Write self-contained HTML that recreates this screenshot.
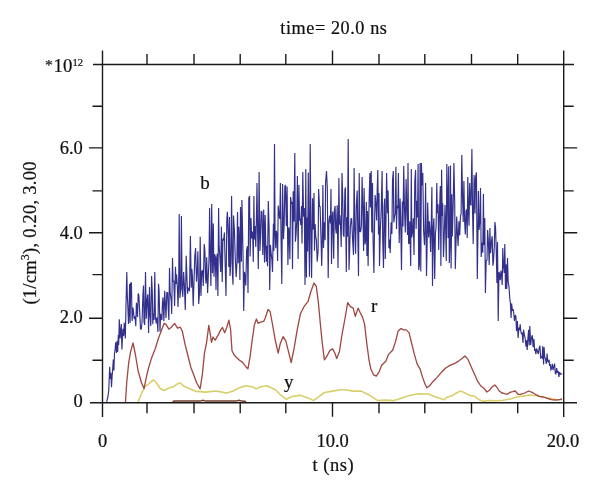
<!DOCTYPE html><html><head><meta charset="utf-8"><style>html,body{margin:0;padding:0;background:#fff;}svg{display:block;}text{font-family:"Liberation Serif",serif;fill:#111;stroke:#111;stroke-width:0.22px;}</style></head><body>
<svg width="600" height="496" viewBox="0 0 600 496">
<rect width="600" height="496" fill="#fff"/>
<polyline points="138.2,402.0 141.1,394.3 144.9,386.6 148.7,383.8 153.3,379.8 156.4,382.8 160.2,388.5 164.1,390.5 167.9,388.5 173.6,386.6 177.5,383.8 180.3,382.8 183.2,385.7 188.9,388.5 196.6,391.4 205.6,392.1 216.2,391.0 226.8,393.1 233.1,391.0 239.5,387.8 245.8,385.7 252.2,386.8 256.4,388.9 260.6,386.8 267.0,385.7 275.4,389.8 280.9,395.2 286.3,399.3 291.8,396.6 299.9,395.2 308.1,397.9 313.5,400.6 319.0,396.6 324.4,392.5 332.6,391.1 340.8,389.8 345.0,389.8 353.2,391.1 361.3,391.1 369.5,395.2 377.7,400.6 385.8,400.1 394.0,400.6 402.2,397.9 410.3,395.2 418.5,393.8 428.6,394.0 433.7,396.3 438.9,398.0 444.0,399.7 447.4,397.1 452.6,395.4 456.8,392.8 460.3,391.1 464.6,392.8 469.7,395.4 474.8,396.3 479.1,399.7 483.4,401.4 488.6,400.5 496.0,400.8 503.3,400.3 510.0,399.0 516.7,397.0 523.3,396.1 530.0,395.0 536.7,395.7 543.3,397.0 550.0,398.3 556.7,399.7 562.0,399.7" fill="none" stroke="#d9cf6a" stroke-width="1.6" stroke-linejoin="round"/>
<polyline points="172.5,401.6 175.0,401.1 200.0,401.1 203.0,400.3 206.0,401.1 236.0,401.1 239.0,400.3 242.0,401.1 246.0,401.6" fill="none" stroke="#6e3f2c" stroke-width="1.5"/>
<polyline points="125.4,402.8 126.7,382.8 128.6,363.6 130.5,352.1 133.0,343.0 135.3,354.0 138.2,371.3 141.5,382.8 144.0,388.6 146.8,375.1 148.7,367.5 151.6,357.9 155.4,348.3 158.3,338.7 161.2,331.1 164.1,323.4 166.0,324.4 168.9,329.2 171.3,327.2 174.6,323.4 177.5,328.2 180.3,327.2 182.3,331.1 185.1,344.5 188.0,356.0 190.9,367.5 193.8,375.1 196.6,382.8 200.1,388.9 202.4,374.1 204.5,352.9 206.6,342.3 208.8,325.4 210.2,333.9 211.5,342.3 213.0,337.0 215.1,340.2 218.3,334.9 220.8,329.6 222.5,327.5 224.6,332.8 226.8,327.5 228.9,320.1 230.6,329.6 232.0,350.8 234.2,355.0 236.3,357.2 239.5,360.3 242.6,362.4 245.8,366.7 247.9,368.8 250.0,357.2 252.2,340.2 254.3,325.4 256.4,319.0 258.1,323.3 260.6,322.2 263.8,321.2 265.3,318.0 268.0,309.5 270.1,311.5 272.5,324.4 275.4,340.8 278.2,353.0 280.3,343.5 283.1,336.7 285.8,340.8 288.5,351.7 291.2,362.5 294.0,348.9 297.2,329.9 300.5,313.5 304.0,306.7 308.1,301.3 310.8,291.8 314.0,283.0 316.3,286.3 318.4,302.7 320.4,324.4 322.3,343.5 324.4,359.8 327.2,355.7 329.9,350.3 332.6,348.9 334.8,353.0 336.7,358.5 339.4,351.7 342.1,334.0 344.9,319.0 347.7,302.7 350.4,306.7 353.2,308.1 355.3,316.3 358.1,308.1 360.0,312.2 362.7,317.6 364.6,324.4 366.8,343.5 369.0,359.8 370.9,369.3 373.6,374.8 376.3,376.2 379.0,372.1 381.7,365.3 385.8,361.2 388.5,354.4 392.6,350.3 395.4,342.1 398.1,331.2 400.8,328.5 403.5,329.9 406.2,329.9 409.0,332.6 411.7,343.5 414.4,354.4 417.1,363.9 420.0,368.8 422.6,377.4 425.1,384.3 426.9,387.7 429.4,386.0 432.9,381.7 437.1,377.4 441.4,372.3 445.7,368.0 450.0,365.4 454.3,363.7 458.6,361.1 462.0,358.6 464.9,356.0 468.0,359.4 470.6,365.4 474.0,373.1 477.4,380.8 480.8,386.0 484.3,388.6 486.8,392.0 489.4,390.3 492.0,387.0 494.7,385.0 496.7,387.0 499.3,391.0 502.0,393.0 504.7,393.7 507.3,394.3 510.0,392.3 512.7,391.7 515.3,391.0 518.0,394.3 520.7,394.3 524.7,393.0 528.7,391.0 532.0,392.3 535.3,394.3 539.3,396.3 543.3,397.0 547.3,398.3 551.3,399.7 555.3,400.0 559.3,399.7 562.0,399.0" fill="none" stroke="#a0453f" stroke-width="1.3" stroke-linejoin="round"/>
<polyline points="106.6,401.8 107.9,397.0 108.7,391.0 109.1,381.3 109.7,366.8 110.3,378.9 110.9,372.8 111.5,387.3 112.1,376.4 112.7,369.2 113.3,359.5 113.9,370.4 114.5,353.5 115.1,349.8 115.7,342.2 116.5,353.0 117.1,341.0 117.7,352.0 118.3,334.9 118.7,345.0 119.3,319.2 120.1,338.5 121.3,324.0 121.9,349.4 122.9,328.9 123.6,336.0 124.3,322.8 125.3,338.5 126.0,305.3 126.8,272.0 127.3,295.2 127.8,305.7 128.5,324.0 129.0,312.3 129.6,284.0 130.1,323.0 130.7,283.3 131.4,282.4 132.1,321.0 133.0,307.5 133.6,312.8 134.2,319.0 135.0,316.4 135.8,326.3 136.4,302.8 136.9,306.5 137.5,317.0 138.2,293.4 138.9,295.7 139.7,312.2 140.5,329.0 141.2,329.1 142.0,323.0 142.9,295.6 143.5,285.5 144.0,321.8 144.7,325.0 145.5,272.0 146.3,318.7 147.1,299.6 147.8,294.2 148.6,333.0 149.5,287.0 150.0,313.2 150.8,326.0 151.6,276.1 152.3,292.6 152.8,324.2 153.4,313.2 154.0,320.0 154.8,272.0 155.4,317.5 156.3,323.4 157.0,317.2 157.9,332.0 158.5,283.7 159.1,290.9 160.0,331.6 160.6,313.7 161.2,318.0 161.9,320.0 162.4,303.4 163.0,297.2 163.9,321.2 164.7,290.8 165.5,306.8 166.0,318.0 166.8,292.6 167.7,292.8 168.2,308.3 168.9,320.0 169.5,268.0 170.1,291.7 170.6,295.9 171.2,300.5 171.7,314.0 172.5,258.0 173.1,281.8 173.8,280.7 174.6,306.0 175.5,266.8 176.0,283.9 176.6,274.5 177.4,287.6 178.0,307.0 178.7,282.2 179.2,214.0 179.9,298.0 180.8,289.4 181.4,216.0 182.1,287.9 182.8,296.9 183.6,271.9 184.4,285.6 185.3,310.0 186.2,255.7 187.0,279.0 187.6,293.7 188.1,287.5 188.7,290.0 189.5,290.6 190.4,236.0 191.3,287.7 191.8,268.9 192.4,276.2 193.2,306.0 194.0,281.3 194.8,256.0 195.6,248.0 196.5,281.7 197.3,269.5 197.9,251.2 198.7,304.0 199.6,291.4 200.2,236.7 201.0,296.0 201.6,271.4 202.5,270.6 203.3,286.0 204.2,244.0 204.9,251.3 205.5,277.4 206.0,283.5 206.7,257.2 207.6,293.0 208.4,273.4 209.0,259.7 209.6,208.0 210.3,258.0 210.9,286.0 211.7,204.0 212.5,273.2 213.3,223.4 214.0,276.7 214.7,254.2 215.4,257.1 216.0,289.9 216.6,258.2 217.3,253.7 217.9,296.0 218.6,208.0 219.1,245.9 219.9,257.2 220.7,271.9 221.4,226.8 222.2,282.0 222.9,238.5 223.6,240.6 224.4,232.5 225.1,261.3 226.0,296.0 226.8,220.0 227.4,211.7 228.3,236.2 228.8,267.0 229.4,217.0 230.0,276.0 230.8,262.9 231.6,196.0 232.4,273.5 233.0,284.7 233.5,215.6 234.4,230.2 235.3,259.3 236.2,277.0 236.9,263.4 237.5,212.0 238.3,263.2 238.8,226.7 239.3,239.9 239.9,280.0 240.5,207.0 241.4,261.8 241.9,199.9 242.5,228.0 243.1,258.4 243.7,311.0 244.5,271.7 245.1,276.8 245.8,285.6 246.6,250.2 247.4,246.2 248.0,293.0 248.8,198.0 249.6,196.0 250.1,256.4 251.0,218.1 251.7,238.5 252.6,231.7 253.3,262.0 253.9,196.0 254.4,239.4 255.0,225.9 255.8,246.9 256.4,219.7 257.0,183.0 257.6,231.3 258.3,269.0 259.1,172.0 259.9,251.0 260.5,239.1 261.2,211.5 262.0,211.9 262.8,255.0 263.7,209.6 264.5,262.4 265.2,215.0 265.7,241.5 266.3,261.8 266.9,245.8 267.5,266.2 268.3,201.0 269.1,228.2 269.7,290.0 270.4,244.9 271.0,252.1 271.9,260.0 272.5,272.0 273.4,223.7 273.9,251.1 274.5,144.0 275.1,235.0 275.8,248.2 276.3,230.8 277.0,234.7 277.6,261.0 278.2,205.6 279.0,214.9 279.8,219.0 280.4,183.1 281.1,241.2 281.8,284.0 282.6,184.0 283.5,239.3 284.2,223.4 284.8,186.7 285.5,185.0 286.3,226.0 287.1,186.6 287.9,265.0 288.7,227.4 289.2,232.0 289.9,259.2 290.6,197.0 291.3,203.2 292.0,202.7 292.5,269.0 293.2,191.3 294.0,221.6 294.8,153.0 295.4,241.7 296.1,234.0 296.7,222.1 297.4,175.9 298.1,259.0 298.9,185.0 299.6,220.2 300.2,218.7 300.8,225.1 301.5,205.9 302.0,243.4 302.8,172.0 303.6,216.8 304.3,208.0 305.0,285.0 305.8,169.0 306.4,277.4 306.9,217.4 307.6,251.4 308.3,172.5 308.9,238.9 309.5,276.8 310.2,144.0 311.1,246.7 311.6,278.0 312.5,198.3 313.3,229.6 314.0,193.0 314.5,250.8 315.1,224.0 315.8,236.8 316.4,239.7 317.2,261.6 318.1,251.0 318.6,189.0 319.5,206.3 320.1,206.5 321.0,238.6 321.7,266.0 322.3,240.5 322.9,185.0 323.5,247.9 324.3,222.3 325.1,240.3 325.6,182.3 326.5,171.0 327.3,188.0 328.2,278.0 328.9,221.3 329.7,215.5 330.4,223.4 331.0,189.0 331.5,264.0 332.2,217.6 332.8,211.5 333.7,258.7 334.3,211.4 335.1,205.9 335.7,228.7 336.3,233.6 337.2,205.3 338.0,268.0 338.9,178.0 339.5,224.6 340.0,215.2 340.6,228.7 341.2,247.0 342.0,173.0 342.7,196.2 343.3,234.1 344.0,236.8 344.9,190.0 345.4,187.4 346.3,272.0 346.8,217.2 347.5,236.7 348.2,139.0 349.0,270.0 349.5,254.8 350.4,226.5 351.1,218.7 351.7,218.8 352.6,239.9 353.5,255.0 354.1,168.0 354.8,227.5 355.6,253.7 356.3,205.7 357.2,190.6 357.7,226.8 358.5,276.0 359.2,173.0 359.9,231.3 360.6,231.7 361.4,225.8 362.1,177.0 362.8,206.5 363.6,251.0 364.1,188.0 365.0,244.4 365.7,239.7 366.3,201.9 366.9,255.9 367.5,211.0 368.1,266.0 368.7,220.7 369.3,193.3 369.9,173.0 370.4,207.4 371.2,171.0 371.8,232.6 372.5,182.9 373.1,241.3 373.9,273.0 374.5,227.8 375.1,195.0 376.0,204.8 376.6,220.5 377.2,190.6 377.8,170.1 378.5,234.4 379.0,193.0 379.5,266.0 380.4,228.0 381.2,210.4 382.1,171.0 382.7,240.0 383.5,267.9 384.1,206.6 384.7,198.6 385.3,259.0 386.0,218.7 386.6,173.0 387.5,213.3 388.1,190.4 388.9,248.3 389.6,239.5 390.2,253.0 391.1,222.2 391.9,234.0 392.5,180.6 393.3,171.0 393.8,222.3 394.6,216.4 395.2,213.8 395.9,166.8 396.5,229.0 397.1,206.5 397.9,207.4 398.4,173.0 399.2,242.9 400.1,198.6 400.6,217.6 401.5,270.0 402.3,201.6 403.0,226.5 403.7,166.0 404.5,208.6 405.3,232.6 406.1,179.1 406.7,205.7 407.5,234.9 408.0,163.0 408.6,243.0 409.2,243.8 409.8,221.2 410.7,266.1 411.3,168.9 411.8,237.4 412.6,231.1 413.3,218.3 414.0,255.0 414.8,181.0 415.6,169.9 416.1,229.1 416.8,200.8 417.5,217.6 418.1,164.0 418.7,270.0 419.4,264.6 420.1,162.9 420.8,271.5 421.4,163.0 422.2,185.4 422.8,173.0 423.6,230.7 424.5,245.1 425.0,229.2 425.6,183.0 426.5,276.0 427.1,244.4 427.7,202.6 428.6,237.5 429.3,221.3 430.0,231.3 430.6,252.1 431.2,225.4 431.9,187.0 432.5,286.0 433.3,227.2 433.9,218.2 434.7,279.0 435.4,233.8 436.1,226.8 436.8,183.0 437.3,213.1 438.1,204.3 438.7,250.0 439.6,207.6 440.3,186.0 440.9,266.0 441.6,169.7 442.2,216.0 442.7,203.2 443.5,257.0 444.2,237.2 445.0,204.9 445.5,221.3 446.3,261.0 446.8,164.0 447.6,199.0 448.1,238.1 448.7,166.3 449.3,263.0 450.0,238.9 450.5,165.6 451.1,268.6 451.8,194.2 452.3,236.4 453.2,205.0 453.9,163.0 454.7,201.9 455.3,269.0 456.2,236.6 456.7,216.4 457.4,232.9 458.1,246.0 458.9,221.3 459.7,235.5 460.5,215.7 461.1,214.1 461.8,155.0 462.5,195.8 463.2,222.0 463.9,181.0 464.6,220.6 465.3,234.5 466.0,210.8 466.6,209.5 467.2,238.0 467.8,177.0 468.4,208.2 469.0,225.8 469.7,183.0 470.3,204.4 471.0,204.9 471.9,149.0 472.6,213.5 473.2,244.0 474.1,175.0 475.0,213.6 475.5,178.1 476.4,172.4 477.3,279.0 477.9,237.4 478.4,191.0 479.0,230.0 479.9,221.2 480.5,188.0 481.2,257.0 482.1,242.5 482.8,252.8 483.4,194.0 484.0,245.3 484.8,218.0 485.4,293.0 486.2,260.6 487.0,260.2 487.6,230.0 488.3,239.8 489.2,265.0 489.9,228.0 490.6,253.3 491.5,240.7 492.2,236.2 492.9,265.8 493.5,261.0 494.3,246.2 494.9,222.0 495.6,228.4 496.4,257.2 496.9,283.0 497.5,242.0 498.2,321.0 499.0,272.0 499.8,275.1 500.3,280.2 500.9,270.7 501.5,273.2 502.2,285.0 502.8,248.0 503.4,264.6 504.2,273.0 504.8,244.0 505.5,289.0 506.2,264.5 506.8,288.9 507.5,258.0 508.2,281.8 509.0,286.5 509.8,299.0 510.4,302.7 511.1,318.0 511.6,303.4 512.4,310.3 513.3,309.8 513.8,313.7 514.5,321.0 515.3,315.0 515.9,316.6 516.5,331.1 517.4,321.0 518.1,338.0 518.9,327.6 519.6,330.0 520.2,324.4 520.8,331.3 521.4,333.6 522.2,333.0 523.0,343.0 523.6,329.9 524.4,334.7 525.1,338.0 526.0,346.7 526.6,340.2 527.2,350.0 527.8,340.1 528.6,329.7 529.2,345.4 529.8,326.0 530.7,345.0 531.4,338.2 532.3,335.2 533.1,347.3 533.9,338.8 534.7,351.0 535.3,348.8 535.8,354.2 536.7,349.1 537.2,349.7 538.1,354.0 538.6,352.3 539.1,348.5 539.9,345.6 540.7,357.9 541.4,357.0 542.2,358.0 542.7,346.2 543.6,364.5 544.1,347.0 544.7,357.6 545.5,358.4 546.3,364.0 547.1,353.5 547.7,361.5 548.5,362.0 549.1,359.7 549.6,365.9 550.2,364.0 550.9,369.8 551.5,368.9 552.3,363.9 553.1,370.1 553.7,367.0 554.6,363.6 555.3,373.7 555.9,374.0 556.7,368.1 557.3,372.8 558.1,370.7 558.9,377.0 559.6,372.0 560.5,374.2 561.1,374.0 562.3,374.0" fill="none" stroke="#32308a" stroke-width="1.15" stroke-linejoin="miter" stroke-miterlimit="3"/>
<path d="M102.5,50.6V417 M563.7,50.6V417 M90,402.8H577 M93,64.5H574 M147.00,402.8v10.5 M147.00,64.5v-10.5 M194.00,402.8v10.5 M194.00,64.5v-10.5 M240.20,402.8v10.5 M240.20,64.5v-10.5 M285.80,402.8v10.5 M285.80,64.5v-10.5 M332.50,402.8v14 M332.50,64.5v-14 M379.00,402.8v10.5 M379.00,64.5v-10.5 M424.80,402.8v10.5 M424.80,64.5v-10.5 M471.50,402.8v10.5 M471.50,64.5v-10.5 M517.70,402.8v10.5 M517.70,64.5v-10.5 M102.5,360.30h-10 M563.7,360.30h10 M102.5,318.30h-13.5 M563.7,318.30h13.5 M102.5,274.60h-10 M563.7,274.60h10 M102.5,232.70h-13.5 M563.7,232.70h13.5 M102.5,190.90h-10 M563.7,190.90h10 M102.5,147.90h-13.5 M563.7,147.90h13.5 M102.5,106.30h-10 M563.7,106.30h10" stroke="#1a1a1a" stroke-width="1.4" fill="none"/>
<g style="filter:grayscale(1)">
<text x="280.3" y="33.8" font-size="18.2" textLength="106.6" lengthAdjust="spacing">time= 20.0 ns</text>
<text x="82.8" y="238.5" font-size="18.5" text-anchor="end">4.0</text>
<text x="82.8" y="153.9" font-size="18.5" text-anchor="end">6.0</text>
<text x="82.8" y="323.1" font-size="18.5" text-anchor="end">2.0</text>
<text x="82.8" y="407.2" font-size="18.5" text-anchor="end">0</text>
<text x="45.0" y="70.3" font-size="15.5">*</text>
<text x="53.6" y="72.2" font-size="18.8">10</text>
<text x="72.5" y="65.6" font-size="10.6">12</text>
<text x="102.7" y="446.6" font-size="18.5" text-anchor="middle">0</text>
<text x="332.6" y="446.6" font-size="18.5" text-anchor="middle">10.0</text>
<text x="563.0" y="446.6" font-size="18.5" text-anchor="middle">20.0</text>
<text x="312.6" y="471.1" font-size="18.5" textLength="41" lengthAdjust="spacing">t (ns)</text>
<text transform="translate(35.8,304.6) rotate(-90)" font-size="18.5" textLength="143" lengthAdjust="spacing">(1/cm<tspan font-size="12" dy="-7">3</tspan><tspan dy="7">), 0.20, 3.00</tspan></text>
<text x="200.2" y="189.3" font-size="19">b</text>
<text x="370.9" y="311.8" font-size="19">r</text>
<text x="284.1" y="388" font-size="19">y</text>
</g>
</svg></body></html>
